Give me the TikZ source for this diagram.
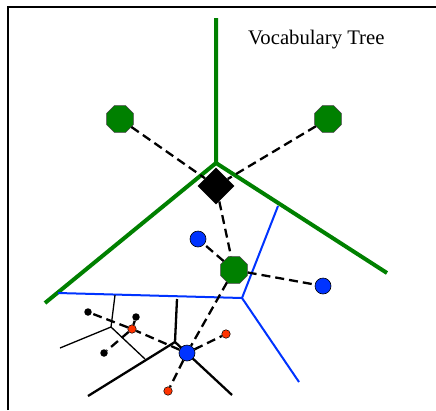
\documentclass[tikz,border=0pt]{standalone}
\usepackage{fontspec}
\setmainfont{Liberation Serif}
\usetikzlibrary{positioning}
\usetikzlibrary{shapes.geometric}
\definecolor{treegreen}{RGB}{0,128,0}
\definecolor{cellblue}{RGB}{0,51,255}
\definecolor{featred}{RGB}{255,51,0}

\begin{document}
\begin{tikzpicture}[
		  x=1pt, y=-1pt,
		  center/.style = {shape=regular polygon, regular polygon sides=8, draw=black!75, line width=0.6pt, fill=treegreen, minimum size=29pt, inner sep=0pt},
		  query/.style = {shape=diamond, fill=black, minimum width=37pt, minimum height=37pt, inner sep=0pt},
		  word/.style = {shape=circle, draw=black, line width=0.6pt, fill=cellblue, minimum size=16pt, inner sep=0pt},
		  leaf/.style = {shape=circle, draw=black, line width=0.5pt, fill=featred, minimum size=8.5pt, inner sep=0pt},
		  feat/.style = {shape=circle, fill=black, minimum size=7.5pt, inner sep=0pt},
		  link/.style = {draw, line width=2.3pt, dash pattern=on 9pt off 5pt},
		  greencell/.style = {draw=treegreen, line width=4pt},
		  bluecell/.style = {draw=cellblue, line width=2pt},
		  thickcell/.style = {draw=black, line width=2.3pt},
		  thincell/.style = {draw=black, line width=1.3pt}
		]
		\useasboundingbox (0,0) rectangle (436,410);
		\draw[line width=2.4pt] (8,410) -- (8,7) -- (436,7);

		% cell boundaries
		\coordinate (gtop) at (216,18);
		\coordinate (ghub) at (216,163);
		\coordinate (gleft) at (45,303);
		\coordinate (gright) at (387,273);
		\coordinate (btop) at (278,206);
		\coordinate (bhub) at (242,298);
		\coordinate (bleft) at (58,293);
		\coordinate (bbot) at (299,382);
		\coordinate (ktop1) at (115,295);
		\coordinate (khub1) at (111,327);
		\coordinate (kleft1) at (60,348);
		\coordinate (khub2) at (145,359);
		\coordinate (kleft2) at (88,396);
		\coordinate (khub3) at (175,342);
		\coordinate (ktop3) at (177,299);
		\coordinate (kright) at (232,395);

		\draw[greencell] (gtop) -- (ghub) (gleft) -- (ghub) -- (gright);
		\draw[bluecell] (btop) -- (bhub) -- (bleft) (bhub) -- (bbot);
		\draw[thincell] (ktop1) -- (khub1) -- (kleft1) (khub1) -- (khub2);
		\draw[thickcell] (kleft2) -- (khub3) -- (kright) (ktop3) -- (khub3);

		% words and features
		\node[query] (q) at (216,186) {};
		\node[center] (c1) at (120,119) {};
		\node[center] (c2) at (328,119) {};
		\node[center] (c3) at (234,270) {};
		\node[word] (w1) at (198,239) {};
		\node[word] (w2) at (323,286) {};
		\node[word] (w3) at (187,353) {};
		\node[leaf] (l1) at (132,329) {};
		\node[leaf] (l2) at (226,334) {};
		\node[leaf] (l3) at (168,391) {};
		\node[feat] (f1) at (88,312) {};
		\node[feat] (f2) at (136,317) {};
		\node[feat] (f3) at (104,353) {};

		\draw[link] (c1) -- (q);
		\draw[link] (c2) -- (q);
		\draw[link] (q) -- (c3);
		\draw[link] (c3) -- (w1);
		\draw[link] (c3) -- (w2);
		\draw[link] (c3) -- (w3);
		\draw[link] (w3) -- (l1);
		\draw[link] (w3) -- (l2);
		\draw[link] (w3) -- (l3);
		\draw[link] (l1) -- (f1);
		\draw[link] (l1) -- (f2);
		\draw[link] (l1) -- (f3);

		\node[anchor=base west, inner sep=0pt, font=\fontsize{20.7}{24}\selectfont] (title) at (248,44) {Vocabulary Tree};
		\end{tikzpicture}
\end{document}
